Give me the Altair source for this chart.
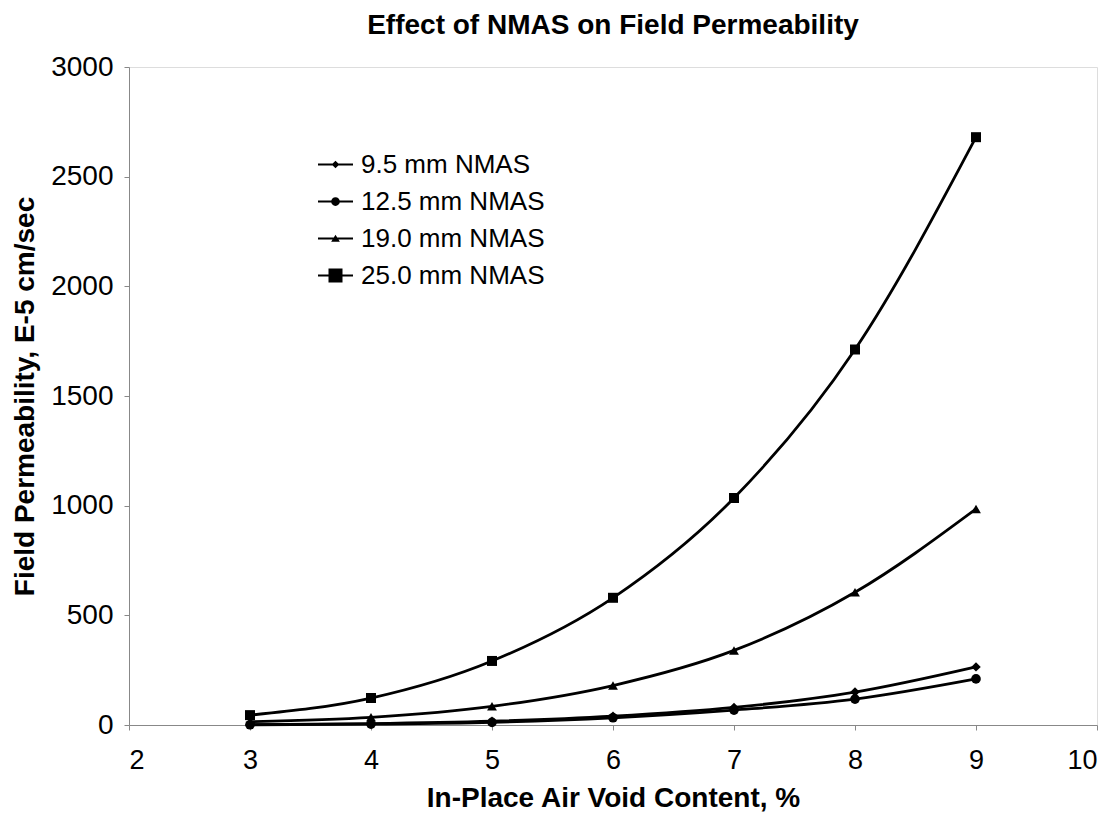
import altair as alt
import pandas as pd

voids = [3, 4, 5, 6, 7, 8, 9]
series_names = ["9.5 mm NMAS", "12.5 mm NMAS", "19.0 mm NMAS", "25.0 mm NMAS"]
perm_95 = [2, 6, 17, 40, 80, 150, 265]
perm_125 = [1, 4, 12, 33, 68, 118, 210]
perm_190 = [15, 35, 85, 180, 340, 605, 985]
perm_250 = [45, 123, 292, 580, 1035, 1712, 2680]

rows = []
for name, vals in zip(series_names, [perm_95, perm_125, perm_190, perm_250]):
    for xv, yv in zip(voids, vals):
        rows.append({"series": name, "voids": xv, "perm": yv})
df = pd.DataFrame(rows)

FONT = "Liberation Sans"

x_enc = alt.X("voids:Q", scale=alt.Scale(domain=[2, 10], nice=False),
              axis=alt.Axis(values=list(range(2, 11)), title="In-Place Air Void Content, %",
                            labelFontSize=27, titleFontSize=28, titlePadding=11,
                            labelPadding=17, grid=False, format="d"))
y_enc = alt.Y("perm:Q", scale=alt.Scale(domain=[0, 3000], nice=False),
              axis=alt.Axis(values=list(range(0, 3001, 500)), title="Field Permeability, E-5 cm/sec",
                            labelFontSize=28, titleFontSize=28, titleX=-90, titleY=329,
                            labelPadding=11, grid=False, format="d"))

lines = alt.Chart(df).mark_line(interpolate="monotone", color="black", strokeWidth=2.8).encode(
    x=x_enc, y=y_enc, detail="series:N", order="voids:Q"
)

points = alt.Chart(df).mark_point(filled=True, color="black", opacity=1).encode(
    x=x_enc, y=y_enc,
    shape=alt.Shape("series:N", scale=alt.Scale(domain=series_names,
                    range=["diamond", "circle", "triangle-up", "square"]), legend=None),
    size=alt.Size("series:N", scale=alt.Scale(domain=series_names, range=[90, 100, 90, 250]), legend=None),
)

legend_paths = [
    "M-1,-0.06H1V0.06H-1Z M0,-0.22L0.22,0L0,0.22L-0.22,0Z",
    "M-1,-0.06H1V0.06H-1Z M-0.25,0A0.25,0.25 0 1,1 0.25,0A0.25,0.25 0 1,1 -0.25,0Z",
    "M-1,-0.06H1V0.06H-1Z M0,-0.22L0.25,0.19L-0.25,0.19Z",
    "M-1,-0.06H1V0.06H-1Z M-0.4,-0.4H0.4V0.4H-0.4Z",
]

legend_layer = alt.Chart(df).mark_point(filled=True, color="black", opacity=0, size=1225).encode(
    x=x_enc, y=y_enc,
    shape=alt.Shape("series:N", scale=alt.Scale(domain=series_names, range=legend_paths),
                    legend=alt.Legend(title=None, orient="none", legendX=189, legendY=80,
                                      symbolSize=1225, symbolOpacity=1, symbolFillColor="black",
                                      symbolStrokeWidth=0, symbolStrokeColor="black",
                                      labelFontSize=26, labelFont=FONT, labelColor="black",
                                      labelLimit=400, labelOffset=8, rowPadding=6, padding=0)),
)

chart = alt.layer(lines, points, legend_layer).resolve_scale(
    shape="independent", size="independent"
).properties(
    width=968, height=658,
    autosize=alt.AutoSizeParams(type="none"),
    padding={"left": 121, "top": 59, "right": 9, "bottom": 87},
    title=alt.TitleParams("Effect of NMAS on Field Permeability", font=FONT, fontSize=28,
                          fontWeight="bold", anchor="middle", color="black", offset=13),
).configure_view(stroke="black", strokeWidth=2).configure_axis(
    labelFont=FONT, titleFont=FONT, titleFontWeight="bold", labelColor="black", titleColor="black",
    domainColor="black", domainWidth=2, tickColor="black", tickWidth=1.5, tickSize=8,
).configure(background="white")

chart.save("out.html", embed_options={"renderer": "svg", "actions": False})
